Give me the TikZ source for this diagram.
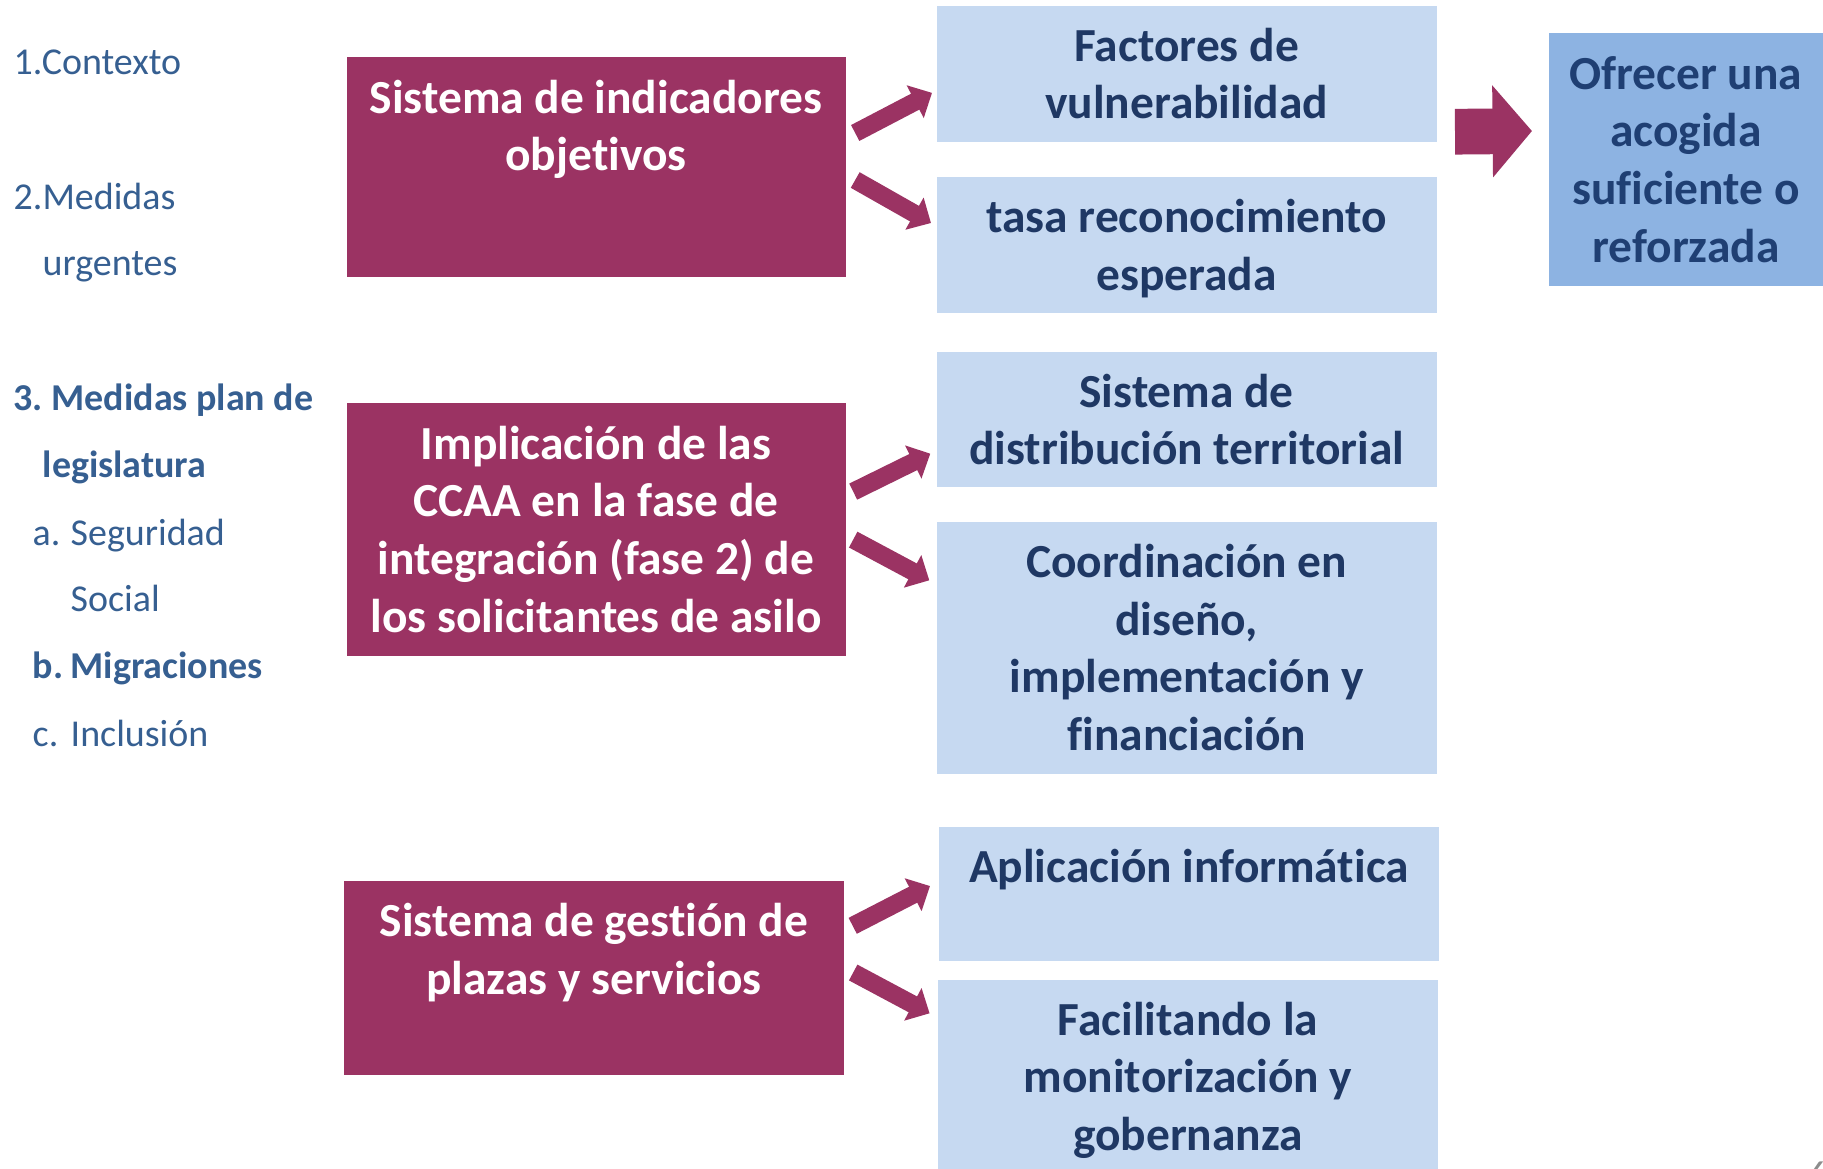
\documentclass[tikz,border=0pt]{standalone}
\usepackage{fontspec}
\setmainfont{Carlito}[Ligatures=NoCommon]
\usetikzlibrary{arrows.meta}
\frenchspacing

\definecolor{plum}{HTML}{9B3363}
\definecolor{paleblue}{HTML}{C6D9F1}
\definecolor{midblue}{HTML}{8DB3E2}
\definecolor{navy}{HTML}{1F3864}
\definecolor{goalnavy}{HTML}{1F3F73}
\definecolor{menublue}{HTML}{365F91}
\definecolor{pagegray}{HTML}{8C8C8C}
\newcommand{\boxfont}{\fontsize{13.5}{16.4}\selectfont\bfseries}
\newcommand{\menufont}{\fontsize{10.8}{13}\selectfont}

\begin{document}
\begin{tikzpicture}[
    maroonbox/.style={rectangle, fill=plum, inner sep=0pt},
    bluebox/.style={rectangle, fill=paleblue, inner sep=0pt},
    boxtext/.style={font=\boxfont, align=center, anchor=north, inner sep=0pt, execute at begin node=\strut},
    menuitem/.style={font=\menufont, text=menublue, anchor=base west, inner sep=0pt},
    fatarrow/.style={-{Triangle[length=5.4pt, width=10.2pt]}, line width=5.1pt, draw=plum},
    bigarrow/.style={-{Triangle[length=0.394cm, width=0.9cm]}, line width=0.457cm, draw=plum}]

    \useasboundingbox (0,0) rectangle (18.23,-11.68);

    % Menu
    \node[menuitem] (ctx) at (0.13, -0.74) {1.Contexto};
    \node[menuitem] (med) at (0.13, -2.093) {2.Medidas};
    \node[menuitem] (urg) at (0.42, -2.75) {urgentes};
    \node[menuitem, font=\menufont\bfseries] (plan) at (0.13, -4.10) {3. Medidas plan de};
    \node[menuitem, font=\menufont\bfseries] (legis) at (0.42, -4.773) {legislatura};
    \node[menuitem] (sega) at (0.32, -5.45) {a.};
    \node[menuitem] (seg) at (0.70, -5.45) {Seguridad};
    \node[menuitem] (soc) at (0.70, -6.117) {Social};
    \node[menuitem, font=\menufont\bfseries] (miga) at (0.32, -6.783) {b.};
    \node[menuitem, font=\menufont\bfseries] (mig) at (0.70, -6.783) {Migraciones};
    \node[menuitem] (inca) at (0.32, -7.467) {c.};
    \node[menuitem] (inc) at (0.70, -7.467) {Inclusión};

    % Measures
    \node[maroonbox, minimum width=4.99cm, minimum height=2.20cm] (m1) at (5.96, -1.67) {};
    \node[maroonbox, minimum width=4.99cm, minimum height=2.523cm] (m2) at (5.96, -5.296) {};
    \node[maroonbox, minimum width=5.0cm, minimum height=1.944cm] (m3) at (5.94, -9.782) {};
    \node[boxtext, text=white] (m1t) at ([yshift=-0.23cm]m1.north) {Sistema de indicadores\\objetivos};
    \node[boxtext, text=white] (m2t) at ([yshift=-0.225cm]m2.north) {Implicación de las\\CCAA en la fase de\\integración (fase 2) de\\los solicitantes de asilo};
    \node[boxtext, text=white] (m3t) at ([yshift=-0.225cm]m3.north) {Sistema de gestión de\\plazas y servicios};

    % Details
    \node[bluebox, minimum width=5.0cm, minimum height=1.357cm] (b1) at (11.867, -0.7385) {};
    \node[bluebox, minimum width=5.0cm, minimum height=1.354cm] (b2) at (11.867, -2.45) {};
    \node[bluebox, minimum width=5.0cm, minimum height=1.353cm] (b3) at (11.867, -4.1965) {};
    \node[bluebox, minimum width=5.0cm, minimum height=2.52cm] (b4) at (11.867, -6.483) {};
    \node[bluebox, minimum width=5.0cm, minimum height=1.344cm] (b5) at (11.89, -8.938) {};
    \node[bluebox, minimum width=5.0cm, minimum height=2.1cm] (b6) at (11.88, -10.85) {};
    \node[boxtext, text=navy] (b1t) at ([yshift=-0.22cm]b1.north) {Factores de\\vulnerabilidad};
    \node[boxtext, text=navy] (b2t) at ([yshift=-0.22cm]b2.north) {tasa reconocimiento\\esperada};
    \node[boxtext, text=navy] (b3t) at ([yshift=-0.22cm]b3.north) {Sistema de\\distribución territorial};
    \node[boxtext, text=navy] (b4t) at ([yshift=-0.22cm]b4.north) {Coordinación en\\diseño,\\implementación y\\financiación};
    \node[boxtext, text=navy] (b5t) at ([yshift=-0.16cm]b5.north) {Aplicación informática};
    \node[boxtext, text=navy] (b6t) at ([yshift=-0.22cm]b6.north) {Facilitando la\\monitorización y\\gobernanza};

    % Goal
    \node[rectangle, fill=midblue, inner sep=0pt, minimum width=2.74cm, minimum height=2.524cm] (goal) at (16.86, -1.595) {};
    \node[boxtext, text=goalnavy] (goalt) at ([yshift=-0.23cm]goal.north) {Ofrecer una\\acogida\\suficiente o\\reforzada};

    % Arrows
    \draw[fatarrow] ([xshift=0.09cm, yshift=0.34cm]m1.east) -- ([xshift=-0.04cm, yshift=-0.19cm]b1.west);
    \draw[fatarrow] ([xshift=0.09cm, yshift=-0.13cm]m1.east) -- ([xshift=-0.05cm, yshift=0.22cm]b2.west);
    \draw[fatarrow] ([xshift=0.07cm, yshift=0.38cm]m2.east) -- ([xshift=-0.057cm, yshift=-0.34cm]b3.west);
    \draw[fatarrow] ([xshift=0.07cm, yshift=-0.10cm]m2.east) -- ([xshift=-0.067cm, yshift=0.68cm]b4.west);
    \draw[fatarrow] ([xshift=0.08cm, yshift=0.524cm]m3.east) -- ([xshift=-0.083cm, yshift=0.078cm]b5.west);
    \draw[fatarrow] ([xshift=0.085cm, yshift=0.057cm]m3.east) -- ([xshift=-0.077cm, yshift=-0.34cm]b6.north west);
    \draw[bigarrow] ([xshift=0.176cm, yshift=0.107cm]b1.south east) -- ([xshift=-0.163cm, yshift=0.285cm]goal.west);

    % Page number
    \node[font=\menufont, text=pagegray, anchor=north west, inner sep=0pt] (pagenum) at (18.073, -11.61) {6};

\end{tikzpicture}
\end{document}
